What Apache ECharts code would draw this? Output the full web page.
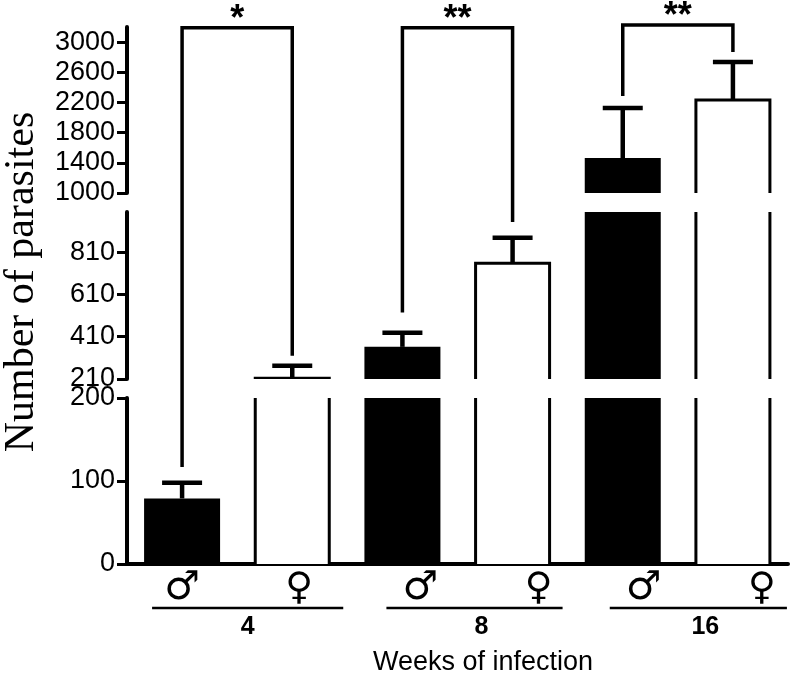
<!DOCTYPE html>
<html><head><meta charset="utf-8">
<script src="https://cdn.jsdelivr.net/npm/echarts@6/dist/echarts.min.js"></script>
<style>html,body{margin:0;padding:0;background:#fff}#c{width:792px;height:676px}</style>
</head><body><div id="c"></div>
<script>
// ---------------- data ----------------
const weeks = ['4', '8', '16'];
const sexSymbols = ['\u2642', '\u2640'];
const maleMean = [79, 362, 1464];
const maleUpper = [98, 429, 2126];
const femaleMean = [214, 757, 2232];
const femaleUpper = [273, 878, 2735];
const sigText = ['*', '**', '**'];
const sigLeftEnd = [117, 524, 2285];
const sigRightEnd = [320, 953, 2868];
const sigTop = [3190, 3190, 3226];
const ticksLow = [0, 100, 200];
const ticksMid = [210, 410, 610, 810];
const ticksHigh = [1000, 1400, 1800, 2200, 2600, 3000];
const rangeLow = [0, 200];
const rangeMid = [210, 1000];
const rangeHigh = [1000, 3200];
const yTitle = 'Number of parasites';
const xTitle = 'Weeks of infection';

// ---------------- layout / style ----------------
const GRID_LEFT = 127, GRID_RIGHT = 4;
const gridBoxes = [{top: 398, height: 166}, {top: 212, height: 167}, {top: 27, height: 166}];
const ranges = [rangeLow, rangeMid, rangeHigh];
const ticks = [ticksLow, ticksMid, ticksHigh];
const FILL_W = 76, OPEN_HALF = 37, CAP_HALF = 20;
const symShiftM = [0, 18, 21], symShiftF = [7, 26, 29];
const lineExtL = [30, 16, 13], lineExtR = [51, 50, 54], labShift = [0, 7, 7];
const SANS = 'Liberation Sans, Arial, sans-serif';

const slots = [];
weeks.forEach(w => { slots.push(w + sexSymbols[0]); slots.push(w + sexSymbols[1]); });

const chart = echarts.init(document.getElementById('c'), null, {renderer: 'canvas'});

function gridOf(v) { return v <= 205 ? 0 : (v < 1000 ? 1 : 2); }
function toPx(slot, v) {
  const k = gridOf(v);
  return chart.convertToPixel({xAxisIndex: k, yAxisIndex: k}, [slot, v]);
}

const grid = [], xAxis = [], yAxis = [], series = [];
for (let k = 0; k < 3; k++) {
  grid.push({left: GRID_LEFT, right: GRID_RIGHT, top: gridBoxes[k].top, height: gridBoxes[k].height});
  xAxis.push({
    type: 'category', data: slots, gridIndex: k, show: k === 0,
    axisLine: {show: true, lineStyle: {color: '#000', width: 4}},
    axisTick: {show: false}, axisLabel: {show: false}, splitLine: {show: false}
  });
  yAxis.push({
    type: 'value', gridIndex: k, min: ranges[k][0], max: ranges[k][1],
    axisLine: {show: true, lineStyle: {color: '#000', width: 4}},
    axisTick: {show: true, length: 10, customValues: ticks[k], lineStyle: {color: '#000', width: 3}},
    axisLabel: {customValues: ticks[k], color: '#000', fontSize: 27, fontFamily: SANS, margin: 12,
      formatter: function (v) { return String(v); }},
    splitLine: {show: false}
  });
  // filled (male) bars
  series.push({
    type: 'custom', xAxisIndex: k, yAxisIndex: k, clip: true,
    data: maleMean.map((v, g) => [2 * g, v]),
    renderItem: function (params, api) {
      const p0 = api.coord([api.value(0), 0]);
      const p1 = api.coord([api.value(0), api.value(1)]);
      return {type: 'rect', shape: {x: p1[0] - FILL_W / 2, y: p1[1], width: FILL_W, height: p0[1] - p1[1]},
        style: {fill: '#000'}};
    }
  });
  // open (female) bars
  series.push({
    type: 'custom', xAxisIndex: k, yAxisIndex: k, clip: true,
    data: femaleMean.map((v, g) => [2 * g + 1, v]),
    renderItem: function (params, api) {
      const p0 = api.coord([api.value(0), 0]);
      const p1 = api.coord([api.value(0), api.value(1)]);
      const xl = p1[0] - OPEN_HALF, xr = p1[0] + OPEN_HALF;
      return {type: 'group', children: [
        {type: 'rect', shape: {x: xl, y: p1[1], width: xr - xl, height: p0[1] - p1[1]}, style: {fill: '#fff'}},
        {type: 'polyline', shape: {points: [[xl, p0[1]], [xl, p1[1]], [xr, p1[1]], [xr, p0[1]]]},
          style: {stroke: '#000', lineWidth: 3, fill: null}}
      ]};
    }
  });
  // error bars
  const errData = [];
  weeks.forEach((w, g) => {
    errData.push([2 * g, maleMean[g], maleUpper[g]]);
    errData.push([2 * g + 1, femaleMean[g], femaleUpper[g]]);
  });
  series.push({
    type: 'custom', xAxisIndex: k, yAxisIndex: k, clip: true, data: errData,
    renderItem: function (params, api) {
      const pm = api.coord([api.value(0), api.value(1)]);
      const pu = api.coord([api.value(0), api.value(2)]);
      return {type: 'group', children: [
        {type: 'line', shape: {x1: pm[0], y1: pm[1], x2: pu[0], y2: pu[1]}, style: {stroke: '#000', lineWidth: 4.5}},
        {type: 'line', shape: {x1: pu[0] - CAP_HALF, y1: pu[1], x2: pu[0] + CAP_HALF, y2: pu[1]}, style: {stroke: '#000', lineWidth: 4.5}}
      ]};
    }
  });
}

// significance brackets (span all three panels)
series.push({
  type: 'custom', xAxisIndex: 2, yAxisIndex: 2, clip: false,
  data: weeks.map((w, g) => [2 * g, sigTop[g]]),
  renderItem: function (params, api) {
    const g = params.dataIndex;
    const a = toPx(2 * g, sigLeftEnd[g]);
    const b = toPx(2 * g + 1, sigRightEnd[g]);
    const t = api.coord([2 * g, sigTop[g]]);
    if (!a || !b) return null;
    const xl = a[0], xr = b[0], yt = t[1];
    return {type: 'group', children: [
      {type: 'polyline', shape: {points: [[xl, a[1]], [xl, yt], [xr, yt], [xr, b[1]]]},
        style: {stroke: '#000', lineWidth: 3.5, fill: null}},
      {type: 'text', x: (xl + xr) / 2, y: yt - 8,
        style: {text: sigText[g], font: 'bold 36px ' + SANS, fill: '#000', align: 'center', verticalAlign: 'middle'}}
    ]};
  }
});

// category annotations under the x axis
series.push({
  type: 'custom', xAxisIndex: 0, yAxisIndex: 0, clip: false,
  data: weeks.map((w, g) => [2 * g, 0]),
  renderItem: function (params, api) {
    const g = params.dataIndex;
    const pm = api.coord([2 * g, 0]);
    const pf = api.coord([2 * g + 1, 0]);
    const y0 = pm[1];
    const lx1 = pm[0] - lineExtL[g], lx2 = pf[0] + lineExtR[g];
    return {type: 'group', children: [
      {type: 'text', x: pm[0] + symShiftM[g], y: y0 + 25,
        style: {text: sexSymbols[0], font: '40px DejaVu Sans', fill: '#000', align: 'center', verticalAlign: 'middle'}},
      {type: 'text', x: pf[0] + symShiftF[g], y: y0 + 25,
        style: {text: sexSymbols[1], font: '38px DejaVu Sans', fill: '#000', align: 'center', verticalAlign: 'middle'}},
      {type: 'line', shape: {x1: lx1, y1: y0 + 44, x2: lx2, y2: y0 + 44}, style: {stroke: '#000', lineWidth: 2.5}},
      {type: 'text', x: (lx1 + lx2) / 2 + labShift[g], y: y0 + 63,
        style: {text: weeks[g], font: 'bold 25px ' + SANS, fill: '#000', align: 'center', verticalAlign: 'middle'}}
    ]};
  }
});

chart.setOption({
  animation: false,
  backgroundColor: '#fff',
  grid: grid, xAxis: xAxis, yAxis: yAxis, series: series,
  graphic: [
    {type: 'text', x: 22, y: 282, rotation: Math.PI / 2,
      style: {text: yTitle, font: '42px Liberation Serif, serif', fill: '#000', align: 'center', verticalAlign: 'middle'}},
    {type: 'text', x: 483, y: 663,
      style: {text: xTitle, font: '27px ' + SANS, fill: '#000', align: 'center', verticalAlign: 'middle'}}
  ]
});
</script>
</body></html>
